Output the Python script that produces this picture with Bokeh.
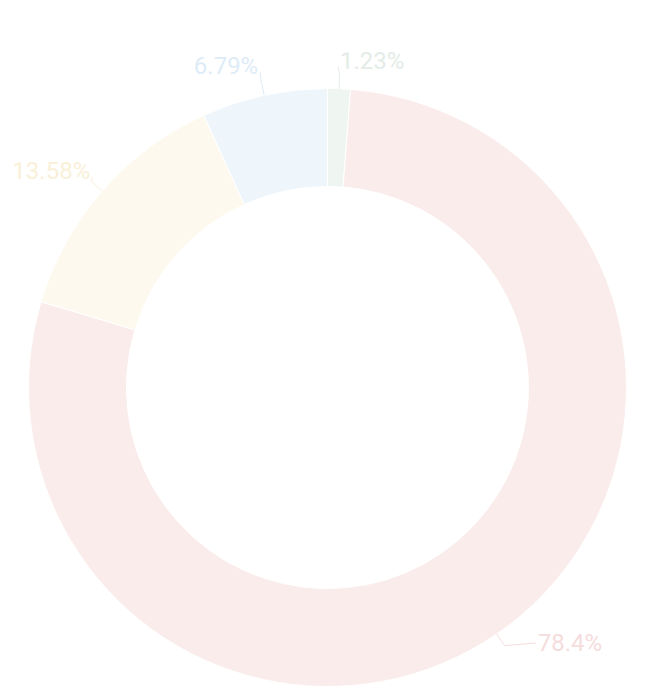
import numpy as np
from bokeh.plotting import figure
from bokeh.models import Range1d, ColumnDataSource
from bokeh.embed import file_html
from bokeh.resources import INLINE
from bokeh.core.properties import value

# ---- data (clockwise from 12 o'clock) ----
labels = ["1.23%", "78.4%", "13.58%", "6.79%"]
values = [1.23, 78.4, 13.58, 6.79]
colors = ["#eff5f1", "#fbecec", "#fdf9ee", "#eef6fc"]
text_colors = ["#e3ece6", "#f5dcdd", "#f9f0d8", "#deecf8"]

# ---- layout constants (page pixels) ----
W, H = 649, 688
CX, CY_PX = 327, 387
R_OUT, R_IN = 299, 201
# text offsets relative to the slice's outer mid point (px, y downward)
label_dx = [1, 41, -12, -6]
label_dy = [-28, 9, -20, -29]
label_align = ["left", "left", "right", "right"]
LEAD = 14

def py(y_px):
    return 690 - y_px

p = figure(width=W, height=H, x_range=Range1d(0, W), y_range=Range1d(690 - H, 690),
           output_backend="svg", toolbar_location=None, min_border=0,
           x_axis_location=None, y_axis_location=None, match_aspect=False)
p.grid.visible = False
p.outline_line_color = None
p.background_fill_color = "white"
p.border_fill_color = "white"

vals = np.array(values, dtype=float)
frac = vals / vals.sum()
theta_end = np.cumsum(frac) * 2 * np.pi
theta_start = theta_end - frac * 2 * np.pi
theta_mid = (theta_start + theta_end) / 2

cy = py(CY_PX)
src = ColumnDataSource(dict(
    start=np.pi / 2 - theta_start,
    end=np.pi / 2 - theta_end,
    color=colors,
))
p.annular_wedge(x=CX, y=cy, inner_radius=R_IN, outer_radius=R_OUT,
                start_angle="start", end_angle="end", direction="clock",
                fill_color="color", line_color="white", line_width=1, source=src)

tx, ty = [], []
for i, th in enumerate(theta_mid):
    x0 = CX + R_OUT * np.sin(th)
    y0 = cy + R_OUT * np.cos(th)
    x1 = x0 + LEAD * np.sin(th)
    y1 = y0 + LEAD * np.cos(th)
    xt = x0 + label_dx[i]
    yt = y0 - label_dy[i]
    side = -1 if label_align[i] == "right" else 1
    xq = xt - side * 2
    yq = yt - 6 if label_dy[i] < 0 else yt
    p.line([x0, x1, xq], [y0, y1, yq], line_color=text_colors[i], line_width=1)
    tx.append(xt)
    ty.append(yt)

tsrc = ColumnDataSource(dict(x=tx, y=ty, text=labels, color=text_colors, align=label_align))
p.text(x="x", y="y", text="text", text_color="color", text_align="align",
       text_baseline="middle", text_font=value("Roboto"), text_font_size="24px",
       source=tsrc)

open("out.html", "w").write(file_html(p, INLINE))
